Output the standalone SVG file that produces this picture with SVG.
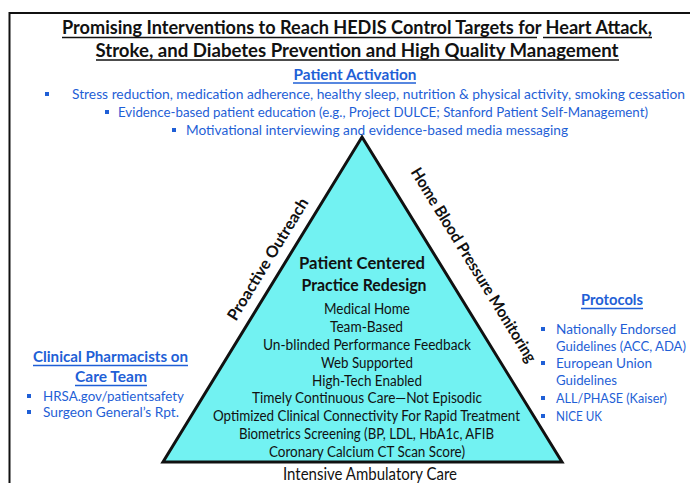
<svg xmlns="http://www.w3.org/2000/svg" width="690" height="483" viewBox="0 0 690 483">
  <style>
    text { font-family: Lato, "Noto Sans", "DejaVu Sans", sans-serif; }
    .title { font-size: 19px; font-weight: bold; fill: #111; }
    .head { font-size: 16px; font-weight: bold; fill: #1f5fd6; }
    .item { font-size: 13.5px; fill: #1f5fd6; }
    .side { font-size: 16px; font-weight: bold; fill: #111; }
    .core { font-size: 17px; font-weight: bold; fill: #111; }
    .feat { font-size: 14.5px; fill: #111; }
    .base { font-size: 17.5px; fill: #111; }
    .ul-k { stroke: #111; stroke-width: 1.6; }
    .ul-b { stroke: #1f5fd6; stroke-width: 1.4; }
    .dot { fill: #1f5fd6; }
  </style>

  <rect width="690" height="483" fill="#fff"/>

  <!-- frame (open at right and bottom) -->
  <path d="M9.5 483 V13 H690" fill="none" stroke="#111" stroke-width="2"/>

  <!-- heading -->
  <g id="title">
    <text class="title" x="62" y="34" textLength="590" lengthAdjust="spacingAndGlyphs">Promising Interventions to Reach HEDIS Control Targets for Heart Attack,</text>
    <line class="ul-k" x1="62" y1="37.5" x2="537" y2="37.5"/>
    <line class="ul-k" x1="543" y1="37.5" x2="652" y2="37.5"/>
    <text class="title" x="357" y="56.5" text-anchor="middle" textLength="523" lengthAdjust="spacingAndGlyphs">Stroke, and Diabetes Prevention and High Quality Management</text>
    <line class="ul-k" x1="96" y1="60" x2="619" y2="60"/>
  </g>

  <!-- top: patient activation -->
  <g id="patient-activation">
    <text class="head" x="355" y="80" text-anchor="middle" textLength="123" lengthAdjust="spacingAndGlyphs">Patient Activation</text>
    <line class="ul-b" x1="293" y1="83" x2="416" y2="83"/>
    <rect class="dot" x="45" y="92" width="4" height="4"/>
    <text class="item" x="72" y="99" textLength="613" lengthAdjust="spacingAndGlyphs">Stress reduction, medication adherence, healthy sleep,  nutrition &amp; physical activity, smoking cessation</text>
    <rect class="dot" x="105" y="110" width="4" height="4"/>
    <text class="item" x="118" y="117" textLength="530" lengthAdjust="spacingAndGlyphs">Evidence-based patient education (e.g., Project DULCE; Stanford Patient Self-Management)</text>
    <rect class="dot" x="172" y="128" width="4" height="4"/>
    <text class="item" x="186" y="135" textLength="382" lengthAdjust="spacingAndGlyphs">Motivational interviewing and evidence-based media messaging</text>
  </g>

  <!-- central pyramid -->
  <g id="pyramid">
    <polygon points="362,137 562,462 163,462" fill="#72f2f2" stroke="#111" stroke-width="3" stroke-linejoin="miter"/>
    <text class="core" x="362" y="269" text-anchor="middle" textLength="126" lengthAdjust="spacingAndGlyphs">Patient Centered</text>
    <text class="core" x="364" y="291" text-anchor="middle" textLength="125" lengthAdjust="spacingAndGlyphs">Practice Redesign</text>
    <text class="feat" x="367" y="314" text-anchor="middle" textLength="86" lengthAdjust="spacingAndGlyphs">Medical Home</text>
    <text class="feat" x="366.5" y="332" text-anchor="middle" textLength="73" lengthAdjust="spacingAndGlyphs">Team-Based</text>
    <text class="feat" x="367" y="350" text-anchor="middle" textLength="208" lengthAdjust="spacingAndGlyphs">Un-blinded Performance Feedback</text>
    <text class="feat" x="367" y="367.5" text-anchor="middle" textLength="92" lengthAdjust="spacingAndGlyphs">Web Supported</text>
    <text class="feat" x="367" y="385.5" text-anchor="middle" textLength="110" lengthAdjust="spacingAndGlyphs">High-Tech Enabled</text>
    <text class="feat" x="367" y="403" text-anchor="middle" textLength="230" lengthAdjust="spacingAndGlyphs">Timely Continuous Care—Not Episodic</text>
    <text class="feat" x="366.5" y="421" text-anchor="middle" textLength="307" lengthAdjust="spacingAndGlyphs">Optimized Clinical Connectivity For Rapid Treatment</text>
    <text class="feat" x="366.5" y="439" text-anchor="middle" textLength="255" lengthAdjust="spacingAndGlyphs">Biometrics Screening (BP, LDL, HbA1c, AFIB</text>
    <text class="feat" x="367" y="457" text-anchor="middle" textLength="196" lengthAdjust="spacingAndGlyphs">Coronary Calcium CT Scan Score)</text>
  </g>

  <!-- side labels along the pyramid edges -->
  <g id="proactive-outreach">
    <text class="side" transform="translate(272.5,262) rotate(-58.5)" text-anchor="middle" textLength="140" lengthAdjust="spacingAndGlyphs">Proactive Outreach</text>
  </g>
  <g id="home-bp-monitoring">
    <text class="side" transform="translate(469,268) rotate(58.5)" text-anchor="middle" textLength="225" lengthAdjust="spacingAndGlyphs">Home Blood Pressure Monitoring</text>
  </g>

  <!-- base label -->
  <g id="intensive-care">
    <text class="base" x="370" y="480" text-anchor="middle" textLength="174" lengthAdjust="spacingAndGlyphs">Intensive Ambulatory Care</text>
  </g>

  <!-- left: pharmacists -->
  <g id="pharmacists">
    <text class="head" x="110.5" y="362" text-anchor="middle" textLength="155" lengthAdjust="spacingAndGlyphs">Clinical Pharmacists on</text>
    <line class="ul-b" x1="33" y1="365.5" x2="188" y2="365.5"/>
    <text class="head" x="111" y="382" text-anchor="middle" textLength="72" lengthAdjust="spacingAndGlyphs">Care Team</text>
    <line class="ul-b" x1="75" y1="385.5" x2="147" y2="385.5"/>
    <rect class="dot" x="27" y="394" width="4" height="4"/>
    <text class="item" x="43" y="401" textLength="141" lengthAdjust="spacingAndGlyphs">HRSA.gov/patientsafety</text>
    <rect class="dot" x="27" y="410" width="4" height="4"/>
    <text class="item" x="43" y="417" textLength="136" lengthAdjust="spacingAndGlyphs">Surgeon General’s Rpt.</text>
  </g>

  <!-- right: protocols -->
  <g id="protocols">
    <text class="head" x="612" y="305" text-anchor="middle" textLength="62" lengthAdjust="spacingAndGlyphs">Protocols</text>
    <line class="ul-b" x1="581" y1="308.5" x2="643" y2="308.5"/>
    <rect class="dot" x="541" y="327" width="4" height="4"/>
    <text class="item" x="556" y="334" textLength="120" lengthAdjust="spacingAndGlyphs">Nationally Endorsed</text>
    <text class="item" x="556" y="351" textLength="130" lengthAdjust="spacingAndGlyphs">Guidelines (ACC, ADA)</text>
    <rect class="dot" x="541" y="361" width="4" height="4"/>
    <text class="item" x="556" y="368" textLength="96" lengthAdjust="spacingAndGlyphs">European Union</text>
    <text class="item" x="556" y="385" textLength="61" lengthAdjust="spacingAndGlyphs">Guidelines</text>
    <rect class="dot" x="541" y="396" width="4" height="4"/>
    <text class="item" x="556" y="403" textLength="111" lengthAdjust="spacingAndGlyphs">ALL/PHASE (Kaiser)</text>
    <rect class="dot" x="541" y="414" width="4" height="4"/>
    <text class="item" x="556" y="421" textLength="46" lengthAdjust="spacingAndGlyphs">NICE UK</text>
  </g>
</svg>
